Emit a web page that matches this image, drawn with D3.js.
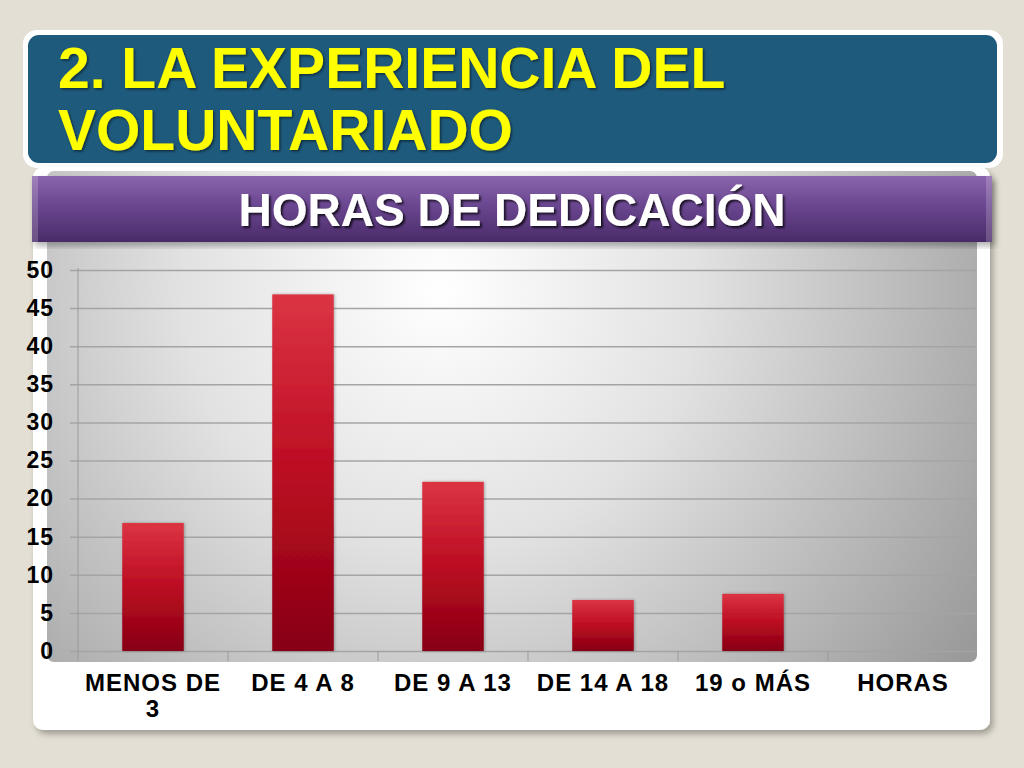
<!DOCTYPE html>
<html>
<head>
<meta charset="utf-8">
<script src="https://cdn.jsdelivr.net/npm/d3@7"></script>
<style>
  body { margin: 0; background: #e3dfd4; }
  svg { display: block; font-family: "Liberation Sans", Arial, sans-serif; }
</style>
</head>
<body>
<svg id="chart" width="1024" height="768"></svg>
<script>
let titleLines = ['2. LA EXPERIENCIA DEL', 'VOLUNTARIADO']
let chartTitle = 'HORAS DE DEDICACIÓN'
let categories = ['MENOS DE 3', 'DE 4 A 8', 'DE 9 A 13', 'DE 14 A 18', '19 o MÁS', 'HORAS']
let values = [16.8, 46.8, 22.2, 6.7, 7.5, null]
let yTicks = [0, 5, 10, 15, 20, 25, 30, 35, 40, 45, 50]

let svg = d3.select('#chart')
let defs = svg.append('defs')

// drop shadows
let sh = defs.append('filter').attr('id', 'cardShadow').attr('x', '-5%').attr('y', '-5%').attr('width', '110%').attr('height', '115%')
sh.append('feDropShadow').attr('dx', 3).attr('dy', 4).attr('stdDeviation', 3).attr('flood-color', '#000').attr('flood-opacity', 0.3)
let sh2 = defs.append('filter').attr('id', 'textShadow')
sh2.append('feDropShadow').attr('dx', 2).attr('dy', 2).attr('stdDeviation', 1.2).attr('flood-color', '#000').attr('flood-opacity', 0.75)
let sh3 = defs.append('filter').attr('id', 'titleShadow')
sh3.append('feDropShadow').attr('dx', 1.5).attr('dy', 1.5).attr('stdDeviation', 1).attr('flood-color', '#000').attr('flood-opacity', 0.5)
let sh4 = defs.append('filter').attr('id', 'barShadow').attr('x', '-20%').attr('width', '140%')
sh4.append('feDropShadow').attr('dx', 1).attr('dy', 0).attr('stdDeviation', 1.5).attr('flood-color', '#000').attr('flood-opacity', 0.3)

// gradients
let bg = defs.append('radialGradient').attr('id', 'plotBg')
    .attr('gradientUnits', 'userSpaceOnUse')
    .attr('cx', 440).attr('cy', 290).attr('r', 640)
bg.append('stop').attr('offset', '0%').attr('stop-color', '#ffffff')
bg.append('stop').attr('offset', '40%').attr('stop-color', '#e2e2e2')
bg.append('stop').attr('offset', '100%').attr('stop-color', '#9a9a9a')

let band = defs.append('linearGradient').attr('id', 'bandGrad').attr('x1', 0).attr('y1', 0).attr('x2', 0).attr('y2', 1)
band.append('stop').attr('offset', '0%').attr('stop-color', '#8a65ad')
band.append('stop').attr('offset', '45%').attr('stop-color', '#6a4690')
band.append('stop').attr('offset', '100%').attr('stop-color', '#4a2b68')

let barGrad = defs.append('linearGradient').attr('id', 'barGrad').attr('x1', 0).attr('y1', 0).attr('x2', 0).attr('y2', 1)
barGrad.append('stop').attr('offset', '0%').attr('stop-color', '#dc3443')
barGrad.append('stop').attr('offset', '50%').attr('stop-color', '#bb0c22')
barGrad.append('stop').attr('offset', '100%').attr('stop-color', '#870012')

// title box
svg.append('rect').attr('x', 23).attr('y', 30).attr('width', 980).attr('height', 138).attr('rx', 14).attr('fill', '#fff')
svg.append('rect').attr('x', 28).attr('y', 35).attr('width', 969).attr('height', 128).attr('rx', 11).attr('fill', '#1e5a7c')
svg.append('g').selectAll('text')
    .data(titleLines)
    .enter().append('text')
    .attr('x', 58)
    .attr('y', (d, i) => 88 + i * 62)
    .attr('font-size', 57)
    .attr('font-weight', 'bold')
    .attr('fill', '#ffff00')
    .attr('filter', 'url(#titleShadow)')
    .text(d => d)

// white card
svg.append('rect').attr('x', 33).attr('y', 167).attr('width', 957).attr('height', 563).attr('rx', 10)
    .attr('fill', '#fff').attr('filter', 'url(#cardShadow)')

// plot area
let plot = {left: 78, right: 978, top: 270, bottom: 651}
svg.append('rect').attr('x', 47).attr('y', 171).attr('width', 930).attr('height', 491).attr('rx', 7)
    .attr('fill', 'url(#plotBg)')

let x = d3.scaleBand()
    .domain(categories)
    .range([plot.left, plot.right])
    .paddingInner(0.59)
    .paddingOuter(0.295)

let y = d3.scaleLinear()
    .domain([0, 50])
    .range([plot.bottom, plot.top])

// gridlines + y labels
let yAxis = svg.append('g')
    .attr('transform', 'translate(70,0)')
    .call(d3.axisLeft(y).tickValues(yTicks).tickSize(-906).tickPadding(16))
yAxis.select('.domain').remove()
yAxis.selectAll('line').attr('stroke', '#a4a4a4').attr('stroke-width', 1.5)
yAxis.selectAll('text')
    .attr('font-family', '"Liberation Sans", Arial, sans-serif')
    .attr('font-size', 23).attr('font-weight', 'bold').attr('fill', '#000')
    .attr('letter-spacing', 1)

// left axis line and category boundaries
svg.append('line').attr('x1', plot.left).attr('x2', plot.left).attr('y1', 268).attr('y2', 661)
    .attr('stroke', '#9a9a9a').attr('stroke-width', 1)
let step = x.step()
svg.append('g').selectAll('line')
    .data(categories.slice(1))
    .enter().append('line')
    .attr('x1', d => x(d) - step * x.paddingInner() / 2)
    .attr('x2', d => x(d) - step * x.paddingInner() / 2)
    .attr('y1', plot.bottom)
    .attr('y2', 661)
    .attr('stroke', '#9a9a9a')

// bars
svg.append('g').selectAll('rect')
    .data(categories.map((c, i) => ({c: c, v: values[i]})).filter(d => d.v != null))
    .enter().append('rect')
    .attr('x', d => x(d.c))
    .attr('y', d => y(d.v))
    .attr('width', x.bandwidth())
    .attr('height', d => y(0) - y(d.v))
    .attr('fill', 'url(#barGrad)')
    .attr('filter', 'url(#barShadow)')

// x labels
let xAxis = svg.append('g')
    .attr('transform', 'translate(0,' + plot.bottom + ')')
    .call(d3.axisBottom(x).tickSize(0).tickPadding(23))
xAxis.select('.domain').remove()
xAxis.selectAll('text')
    .attr('font-family', '"Liberation Sans", Arial, sans-serif')
    .attr('font-size', 24).attr('font-weight', 'bold').attr('fill', '#000')
    .attr('letter-spacing', 1)
    .call(wrap, 145)

function wrap(texts, width) {
    texts.each(function() {
        let text = d3.select(this)
        let words = text.text().split(/\s+/)
        let yy = text.attr('y')
        let dy = parseFloat(text.attr('dy'))
        text.text(null)
        let line = []
        let lineNo = 0
        let tspan = text.append('tspan').attr('x', 0).attr('y', yy).attr('dy', dy + 'em')
        words.forEach(w => {
            line.push(w)
            tspan.text(line.join(' '))
            if (tspan.node().getComputedTextLength() > width && line.length > 1) {
                line.pop()
                tspan.text(line.join(' '))
                line = [w]
                lineNo++
                tspan = text.append('tspan').attr('x', 0).attr('y', yy)
                    .attr('dy', (lineNo * 1.1 + dy) + 'em').text(w)
            }
        })
    })
}

// purple band with chart title
let bandG = svg.append('g').attr('filter', 'url(#cardShadow)')
bandG.append('rect').attr('x', 32).attr('y', 176).attr('width', 960).attr('height', 66).attr('fill', 'url(#bandGrad)')
bandG.append('rect').attr('x', 32).attr('y', 176).attr('width', 6).attr('height', 66).attr('fill', '#fff').attr('opacity', 0.18)
bandG.append('rect').attr('x', 986).attr('y', 176).attr('width', 6).attr('height', 66).attr('fill', '#fff').attr('opacity', 0.18)
svg.append('text')
    .attr('x', 512)
    .attr('y', 226)
    .attr('text-anchor', 'middle')
    .attr('font-size', 46)
    .attr('font-weight', 'bold')
    .attr('fill', '#fff')
    .attr('filter', 'url(#textShadow)')
    .text(chartTitle)
</script>
</body>
</html>
